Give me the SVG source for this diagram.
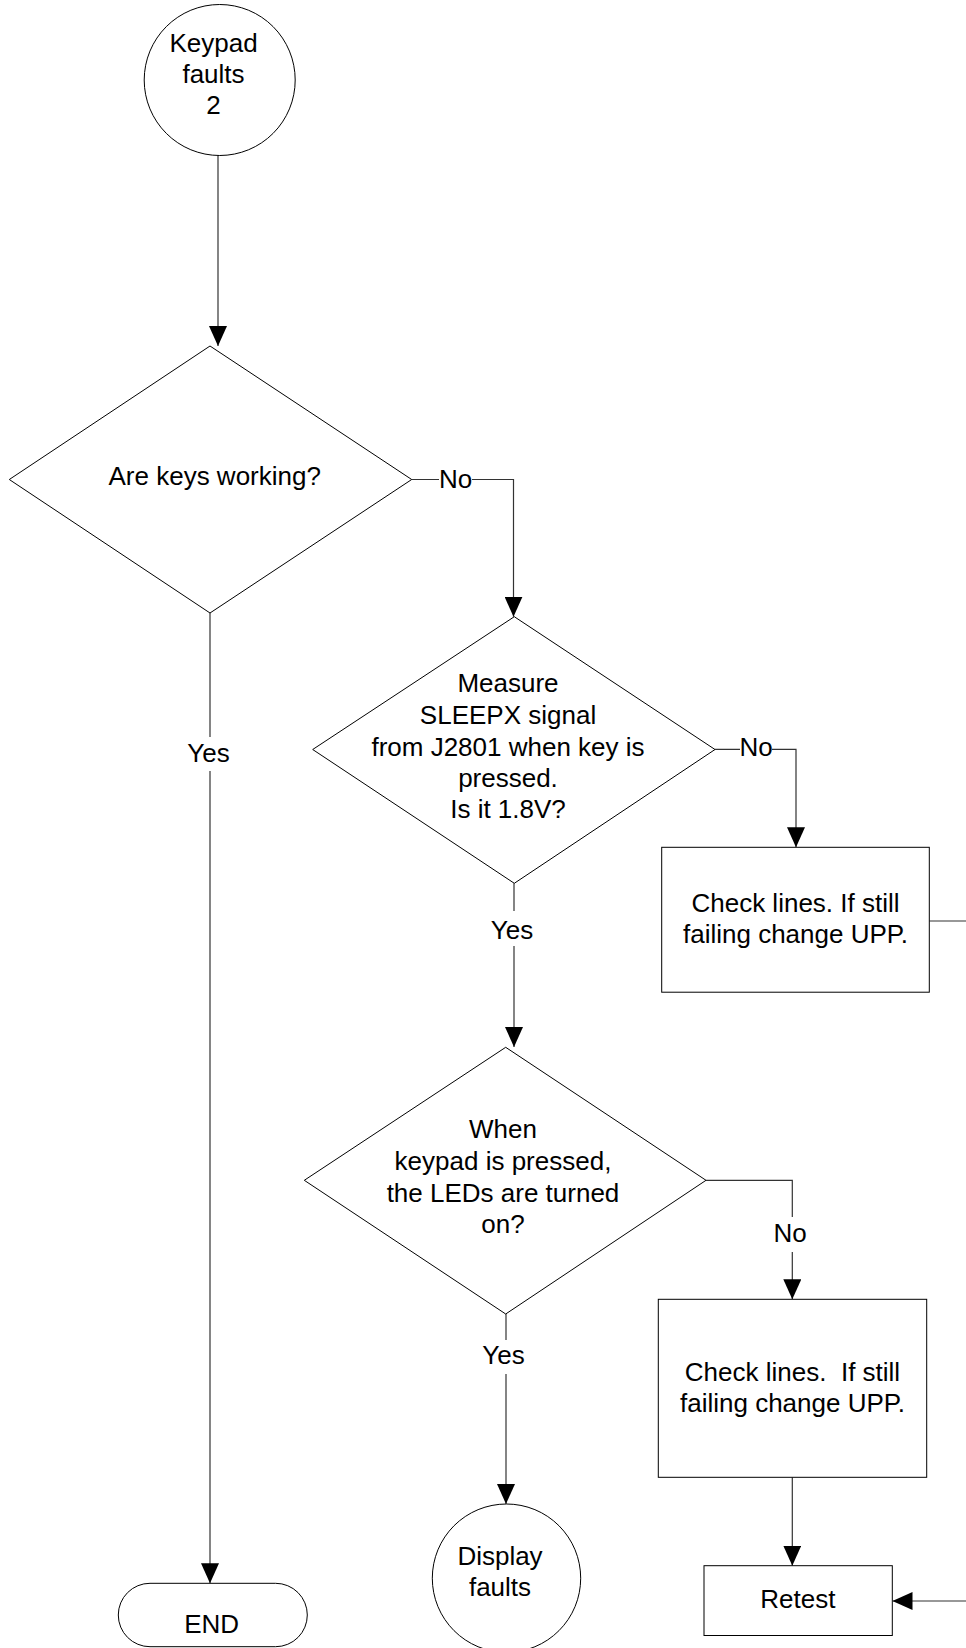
<svg xmlns="http://www.w3.org/2000/svg" width="966" height="1648" viewBox="0 0 966 1648">
<style>
.s{fill:#fff;stroke:#000;stroke-width:1}
.c{fill:none;stroke:#333;stroke-width:1.2}
.t{font-family:"Liberation Sans",Arial,sans-serif;font-size:26px;fill:#000;text-anchor:middle;white-space:pre}
.bg{fill:#fff;stroke:none}
</style>
<defs>
<marker id="ah" markerUnits="userSpaceOnUse" markerWidth="20" markerHeight="18" refX="20" refY="9" orient="auto">
<path d="M0,0 L20,9 L0,18 Z" fill="#000"/>
</marker>
</defs>
<rect width="966" height="1648" fill="#fff"/>
<g id="connectors">
<path class="c" d="M218,155 V346" marker-end="url(#ah)"/>
<path class="c" d="M411.7,479.5 H513.5 V616.7" marker-end="url(#ah)"/>
<path class="c" d="M210,613 V1583.3" marker-end="url(#ah)"/>
<path class="c" d="M715,749.3 H796 V847.3" marker-end="url(#ah)"/>
<path class="c" d="M514,883.3 V1047" marker-end="url(#ah)"/>
<path class="c" d="M929.3,921 H985 V1601 H892.5" marker-end="url(#ah)"/>
<path class="c" d="M706,1180.3 H792.3 V1299.3" marker-end="url(#ah)"/>
<path class="c" d="M506,1314 V1504" marker-end="url(#ah)"/>
<path class="c" d="M792.3,1477.3 V1565.7" marker-end="url(#ah)"/>
<rect class="bg" x="439" y="466" width="33" height="26"/>
<text class="t" x="455.5" y="487.5">No</text>
<rect class="bg" x="188" y="737" width="44" height="34"/>
<text class="t" x="208.5" y="762">Yes</text>
<rect class="bg" x="740" y="736" width="32" height="26"/>
<text class="t" x="756" y="756">No</text>
<rect class="bg" x="492" y="911" width="44" height="35"/>
<text class="t" x="512" y="938.5">Yes</text>
<rect class="bg" x="774" y="1217" width="36" height="35"/>
<text class="t" x="790" y="1242">No</text>
<rect class="bg" x="484" y="1340" width="44" height="34"/>
<text class="t" x="503.5" y="1363.5">Yes</text>
</g>
<g id="start">
<circle class="s" cx="219.7" cy="80" r="75.5"/>
<text class="t" x="213.5" y="52">Keypad</text>
<text class="t" x="213.5" y="83">faults</text>
<text class="t" x="213.5" y="114">2</text>
</g>
<g id="d1">
<polygon class="s" points="210,346 411.7,479.5 210,613 9.3,479.5"/>
<text class="t" x="214.7" y="485">Are keys working?</text>
</g>
<g id="d2">
<polygon class="s" points="514.3,616.7 715,749.5 514.3,883.3 312.7,749.5"/>
<text class="t" x="508" y="692">Measure</text>
<text class="t" x="508" y="723.5">SLEEPX signal</text>
<text class="t" x="508" y="755.5">from J2801 when key is</text>
<text class="t" x="508" y="787">pressed.</text>
<text class="t" x="508" y="818">Is it 1.8V?</text>
</g>
<g id="b1">
<rect class="s" x="661.7" y="847.3" width="267.6" height="144.9"/>
<text class="t" x="795.5" y="911.7">Check lines. If still</text>
<text class="t" x="795.5" y="943.3">failing change UPP.</text>
</g>
<g id="d3">
<polygon class="s" points="505.7,1047.3 706,1180.3 505.7,1314 304.3,1180.3"/>
<text class="t" x="503" y="1138.3">When</text>
<text class="t" x="503" y="1170">keypad is pressed,</text>
<text class="t" x="503" y="1201.7">the LEDs are turned</text>
<text class="t" x="503" y="1232.7">on?</text>
</g>
<g id="b2">
<rect class="s" x="658.3" y="1299.3" width="268.4" height="178"/>
<text class="t" x="792.5" y="1380.7">Check lines.  If still</text>
<text class="t" x="792.5" y="1411.7">failing change UPP.</text>
</g>
<g id="retest">
<rect class="s" x="704" y="1565.7" width="188.3" height="69.8"/>
<text class="t" x="797.8" y="1608.3">Retest</text>
</g>
<g id="display">
<circle class="s" cx="506.5" cy="1578.2" r="74.2"/>
<text class="t" x="500" y="1565">Display</text>
<text class="t" x="500" y="1596">faults</text>
</g>
<g id="end">
<rect class="s" x="118.3" y="1583.3" width="189" height="63.4" rx="31.7" ry="31.7"/>
<text class="t" x="211.7" y="1632.7">END</text>
</g>
</svg>
